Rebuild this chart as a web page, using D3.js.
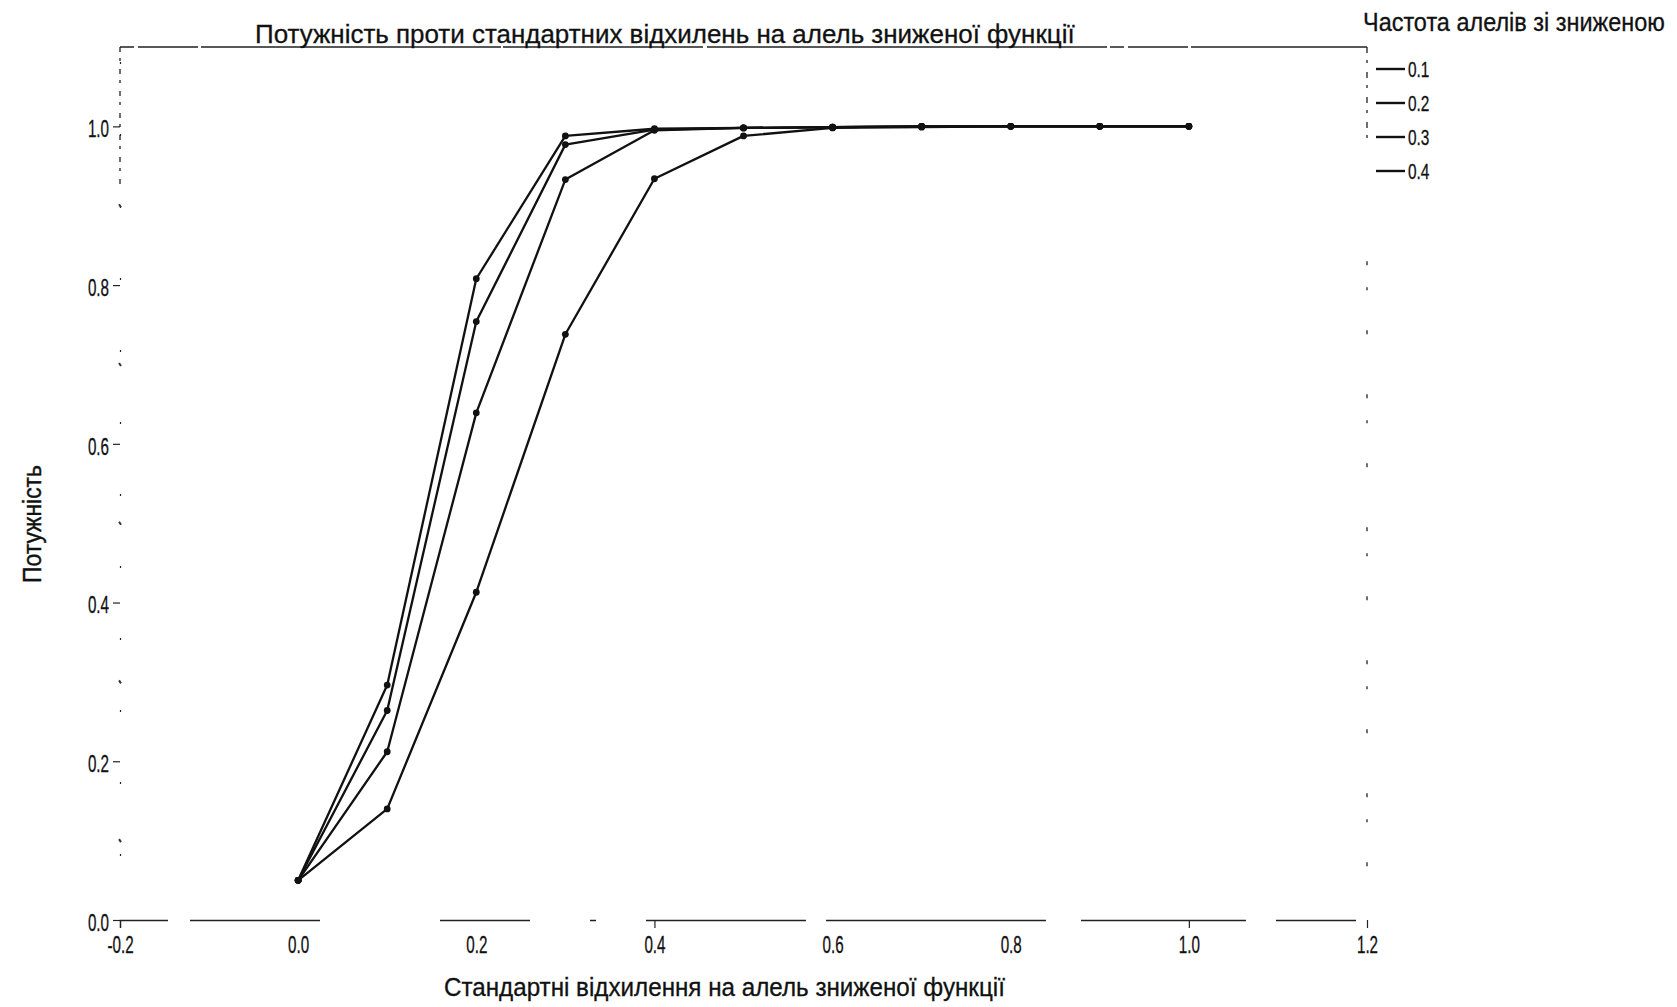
<!DOCTYPE html>
<html>
<head>
<meta charset="utf-8">
<script src="https://cdn.jsdelivr.net/npm/d3@7"></script>
<style>
  html, body { margin: 0; padding: 0; background: #fff; }
  svg { display: block; }
</style>
</head>
<body>
<svg id="chart" width="1677" height="1007"></svg>
<script>
// ---- data ----
const xValues = [0.0, 0.1, 0.2, 0.3, 0.4, 0.5, 0.6, 0.7, 0.8, 0.9, 1.0];
const seriesNames = ["0.1", "0.2", "0.3", "0.4"];
const power01 = [0.05, 0.140, 0.413, 0.738, 0.934, 0.988, 0.998, 0.999, 1.0, 1.0, 1.0];
const power02 = [0.05, 0.212, 0.639, 0.933, 0.995, 0.998, 0.999, 1.0, 1.0, 1.0, 1.0];
const power03 = [0.05, 0.264, 0.754, 0.977, 0.996, 0.998, 0.999, 1.0, 1.0, 1.0, 1.0];
const power04 = [0.05, 0.296, 0.808, 0.988, 0.997, 0.998, 0.999, 1.0, 1.0, 1.0, 1.0];
const xTicks = [-0.2, 0.0, 0.2, 0.4, 0.6, 0.8, 1.0, 1.2];
const yTicks = [0.0, 0.2, 0.4, 0.6, 0.8, 1.0];
const yMinorTicks = [0.1, 0.3, 0.5, 0.7, 0.9];
const titleText = "Потужність проти стандартних відхилень на алель зниженої функції";
const xTitleText = "Стандартні відхилення на алель зниженої функції";
const yTitleText = "Потужність";
const legendTitleText = "Частота алелів зі зниженою";

const seriesValues = [power01, power02, power03, power04];

// ---- layout ----
const svg = d3.select("#chart");
const sans = "'Liberation Sans', Arial, sans-serif";
const x = d3.scaleLinear().domain([-0.2, 1.2]).range([120, 1367]);
const y = d3.scaleLinear().domain([0, 1.1]).range([920, 47]);
const fmt = d => d3.format(".1f")(d).replace("−", "-");

function squeeze(sel, factor) {
  sel.each(function () {
    const w = this.getComputedTextLength();
    d3.select(this).attr("textLength", w * factor).attr("lengthAdjust", "spacingAndGlyphs");
  });
}
// condensed text via transform, so its box is its real drawn box
function narrowText(parent, str, tx, ty, size, width, rotate) {
  const t = parent.append("text").text(str)
    .attr("font-family", sans).attr("font-size", size).attr("fill", "#111")
    .attr("stroke", "#111").attr("stroke-width", 0.3);
  if (rotate) t.attr("text-anchor", "middle");
  const w = t.node().getComputedTextLength();
  const sx = width / w;
  t.attr("transform", `translate(${tx},${ty})${rotate ? " rotate(-90)" : ""} scale(${sx},1)`);
  return t;
}

// frame (scanned, broken look)
const frame = svg.append("g").attr("stroke", "#222").attr("fill", "none");
frame.append("line")
  .attr("x1", x(-0.2)).attr("x2", x(1.2)).attr("y1", y(1.1)).attr("y2", y(1.1))
  .attr("stroke-width", 1.6).attr("stroke-dasharray", "14,4,60,3,300,2,200,4,400,3");
frame.append("line")
  .attr("x1", x(-0.2)).attr("x2", x(-0.2)).attr("y1", y(1.1)).attr("y2", y(0.92))
  .attr("stroke-width", 1.3).attr("stroke-dasharray", "5,6,3,8");
frame.append("line")
  .attr("x1", x(1.2)).attr("x2", x(1.2)).attr("y1", y(1.1)).attr("y2", y(0.98))
  .attr("stroke-width", 1.3).attr("stroke-dasharray", "6,7,3,9");
frame.append("line")
  .attr("x1", x(1.2)).attr("x2", x(1.2)).attr("y1", y(0.83)).attr("y2", y(0.0))
  .attr("stroke-width", 1.3).attr("stroke-dasharray", "4,22,3,40,4,60");

// x axis
const xAxis = svg.append("g")
  .attr("transform", `translate(0,${y(0)})`)
  .call(d3.axisBottom(x).tickValues(xTicks).tickSize(8).tickFormat(fmt));
xAxis.select(".domain").attr("stroke", "#222").attr("stroke-width", 1.5)
  .attr("stroke-dasharray", "55,22,130,120,90,60,6,50,160,20,220,35,165,30,80");
xAxis.selectAll(".tick line").attr("stroke", "#222").attr("stroke-width", 1.2)
  .attr("opacity", (d) => (d === 0.4 || d === 1.0 || d === 1.2) ? 1 : 0);
xAxis.selectAll(".tick text")
  .attr("font-family", sans).attr("font-size", 23).attr("fill", "#111")
  .attr("stroke", "#111").attr("stroke-width", 0.3).attr("dy", "0.95em")
  .call(squeeze, 0.66);

// y axis
const yAxis = svg.append("g")
  .attr("transform", `translate(${x(-0.2)},0)`)
  .call(d3.axisLeft(y).tickValues(yTicks).tickSize(7).tickPadding(4).tickFormat(fmt));
yAxis.select(".domain").attr("stroke", "#222").attr("stroke-width", 1.2)
  .attr("stroke-dasharray", "2,70");
yAxis.selectAll(".tick line").attr("stroke", "#222").attr("stroke-width", 1.2);
yAxis.selectAll(".tick text")
  .attr("font-family", sans).attr("font-size", 23).attr("fill", "#111")
  .attr("stroke", "#111").attr("stroke-width", 0.3).attr("dy", "0.45em")
  .call(squeeze, 0.66);
svg.append("g").selectAll("line").data(yMinorTicks).join("line")
  .attr("x1", x(-0.2) - 1).attr("x2", x(-0.2) + 1)
  .attr("y1", d => y(d) - 1.5).attr("y2", d => y(d) + 1.5)
  .attr("stroke", "#333").attr("stroke-width", 2);

// series
const line = d3.line().x((d, i) => x(xValues[i])).y(d => y(d));
const sg = svg.append("g");
seriesValues.forEach((vals) => {
  sg.append("path").datum(vals)
    .attr("d", line).attr("fill", "none").attr("stroke", "#111").attr("stroke-width", 2.3)
    .attr("stroke-linejoin", "round");
  sg.append("g").selectAll("circle").data(vals).join("circle")
    .attr("cx", (d, i) => x(xValues[i])).attr("cy", d => y(d)).attr("r", 3.4)
    .attr("fill", "#111");
});

// titles
narrowText(svg, titleText, 255, 43, 26, 820, false);
narrowText(svg, xTitleText, 444, 996, 26, 561, false);
narrowText(svg, yTitleText, 41, 524, 25, 118, true).attr("stroke-width", 0.4);

// legend
narrowText(svg, legendTitleText, 1363, 31, 26, 302, false);
const legend = svg.append("g");
seriesNames.forEach((name, i) => {
  const ly = 69 + i * 34;
  legend.append("line").attr("x1", 1376).attr("x2", 1405).attr("y1", ly).attr("y2", ly)
    .attr("stroke", "#111").attr("stroke-width", 2.4);
  legend.append("text").text(name).attr("x", 1408).attr("y", ly + 8)
    .attr("font-family", sans).attr("font-size", 22).attr("fill", "#111")
    .attr("stroke", "#111").attr("stroke-width", 0.3)
    .call(squeeze, 0.7);
});
</script>
</body>
</html>
